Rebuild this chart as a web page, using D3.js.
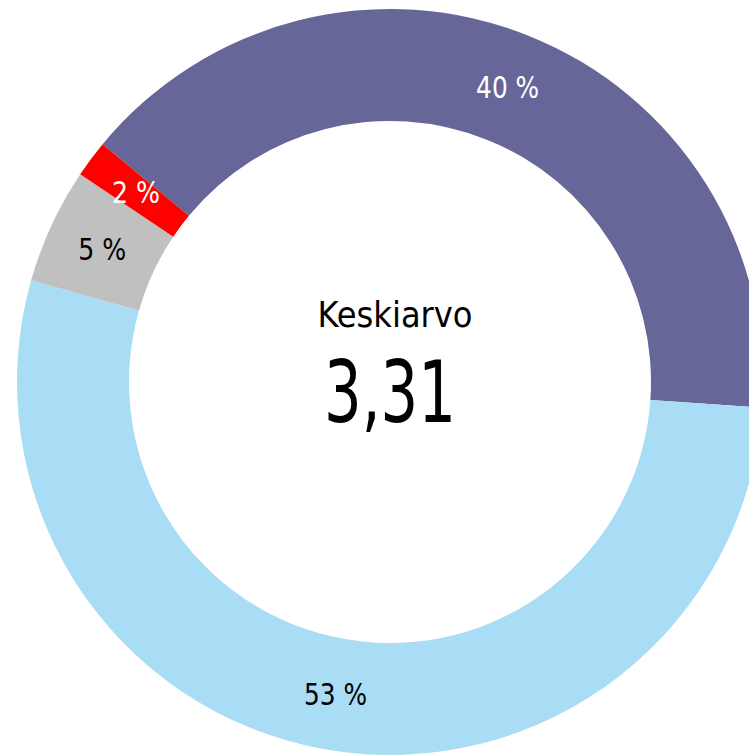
<!DOCTYPE html>
<html>
<head>
<meta charset="utf-8">
<script src="https://cdn.jsdelivr.net/npm/d3@7"></script>
<style>
  body { margin: 0; background: #fff; }
  svg { display: block; }
  text { font-family: "DejaVu Sans Condensed", "Roboto", sans-serif; }
</style>
</head>
<body>
<svg id="chart" width="749" height="755"></svg>
<script>
// slices in clockwise order, starting at the red/purple boundary
const answers = ['4', '3', '2', '1']
const shares = [40.1, 53.3, 5.0, 1.6]
const shareLabels = ['40 %', '53 %', '5 %', '2 %']
const sliceColors = ['#666699', '#a9ddf5', '#c0c0c0', '#ff0000']
const labelColors = ['#ffffff', '#000000', '#000000', '#ffffff']
const centerTitle = 'Keskiarvo'
const centerValue = '3,31'

function buildDonut(container) {
  const svg = d3.select(container)
  const cx = 390
  const cy = 382
  const outerRadius = 373
  const innerRadius = 261

  const rows = answers.map((a, i) => ({
    answer: a,
    share: shares[i],
    label: shareLabels[i],
    color: sliceColors[i],
    textColor: labelColors[i]
  }))

  const startAngle = (309.6 - 360) * Math.PI / 180
  const pie = d3
    .pie()
    .sort(null)
    .value((d) => d.share)
    .startAngle(startAngle)
    .endAngle(startAngle + 2 * Math.PI)

  const arc = d3.arc().innerRadius(innerRadius).outerRadius(outerRadius)

  const g = svg.append('g').attr('transform', 'translate(' + cx + ',' + cy + ')')

  g.selectAll('path')
    .data(pie(rows))
    .enter()
    .append('path')
    .attr('d', arc)
    .attr('fill', (d) => d.data.color)

  // the original font is a narrow light face, so squeeze the text to its width
  g.selectAll('text.share')
    .data(pie(rows))
    .enter()
    .append('text')
    .attr('class', 'share')
    .attr('transform', (d) => 'translate(' + arc.centroid(d) + ')')
    .attr('text-anchor', 'middle')
    .attr('dy', '0.36em')
    .attr('font-size', 30)
    .attr('textLength', (d) => (d.data.label.length > 3 ? 63 : 48))
    .attr('lengthAdjust', 'spacingAndGlyphs')
    .attr('fill', (d) => d.data.textColor)
    .text((d) => d.data.label)

  g.append('text')
    .attr('x', 5)
    .attr('y', -55)
    .attr('text-anchor', 'middle')
    .attr('font-size', 35)
    .attr('textLength', 155)
    .attr('lengthAdjust', 'spacingAndGlyphs')
    .attr('fill', '#000')
    .text(centerTitle)

  g.append('text')
    .attr('x', 0)
    .attr('y', 40)
    .attr('text-anchor', 'middle')
    .attr('font-size', 85)
    .attr('textLength', 132)
    .attr('lengthAdjust', 'spacingAndGlyphs')
    .attr('fill', '#000')
    .text(centerValue)
}

buildDonut('#chart')
</script>
</body>
</html>
